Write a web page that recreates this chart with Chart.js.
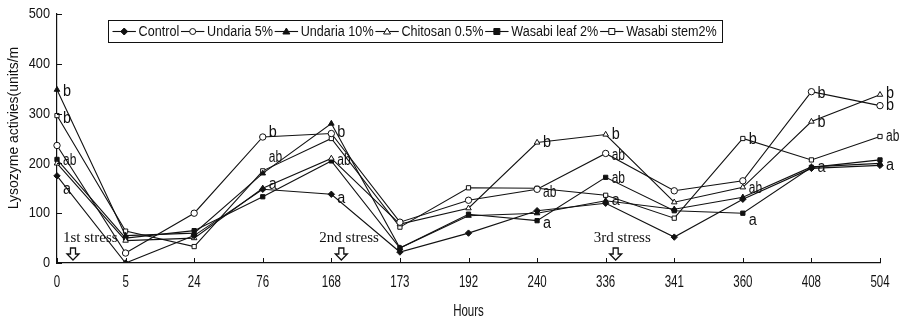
<!DOCTYPE html>
<html>
<head>
<meta charset="utf-8">
<script src="https://cdn.jsdelivr.net/npm/chart.js@4.4.1/dist/chart.umd.min.js"></script>
<style>
  html, body { margin: 0; padding: 0; background: #fff; }
  #wrap { width: 906px; height: 326px; }
</style>
</head>
<body>
<div id="wrap"><canvas id="lysoChart"></canvas></div>
<script>
// hours after start (category axis)
const hours = ['0', '5', '24', '76', '168', '173', '192', '240', '336', '341', '360', '408', '504'];

// lysozyme activity per treatment
const control    = [175, 0, 55, 148, 138, 22, 60, 105, 120, 52, 128, 190, 196];
const undaria5   = [236, 20, 100, 253, 260, 82, 126, 148, 220, 145, 165, 344, 316];
const undaria10  = [348, 55, 60, 180, 280, 30, 95, 100, 125, 108, 132, 193, 200];
const chitosan   = [200, 45, 50, 150, 210, 78, 110, 242, 258, 122, 152, 284, 338];
const wasabiLeaf = [208, 50, 65, 133, 205, 30, 98, 85, 172, 105, 100, 192, 207];
const wasabiStem = [296, 64, 33, 185, 250, 72, 151, 150, 136, 90, 250, 207, 254];

const yTicks = [0, 100, 200, 300, 400, 500];

// significance letters: [hour index, value, letter]
const sigLetters = [
  [0, 345, 'b'], [0, 290, 'b'], [0, 205, 'ab'], [0, 148, 'a'],
  [3, 262, 'b'], [3, 212, 'ab'], [3, 158, 'a'],
  [4, 262, 'b'], [4, 205, 'ab'], [4, 130, 'a'],
  [7, 242, 'b'], [7, 142, 'ab'], [7, 80, 'a'],
  [8, 258, 'b'], [8, 216, 'ab'], [8, 170, 'ab'], [8, 125, 'a'],
  [10, 248, 'b'], [10, 150, 'ab'], [10, 86, 'a'],
  [11, 340, 'b'], [11, 282, 'b'], [11, 192, 'a'],
  [12, 340, 'b'], [12, 316, 'b'], [12, 254, 'ab'], [12, 195, 'a']
];

// stress events: [hour index, label]
const stressNotes = [[0, '1st stress'], [4, '2nd stress'], [8, '3rd stress']];

const INK = '#111';
const SANS = '"Liberation Sans", Arial, sans-serif';

function series(label, data, style, filled) {
  return {
    label: label,
    data: data,
    borderColor: INK,
    borderWidth: 1.1,
    pointStyle: style,
    pointRadius: style === 'rect' ? 3 : 3.2,
    pointBorderWidth: 1,
    pointBorderColor: INK,
    pointBackgroundColor: filled ? INK : '#fff',
    tension: 0,
    fill: false
  };
}

const datasets = [
  series('Control', control, 'rectRot', true),
  series('Undaria 5%', undaria5, 'circle', false),
  series('Undaria 10%', undaria10, 'triangle', true),
  series('Chitosan 0.5%', chitosan, 'triangle', false),
  series('Wasabi leaf 2%', wasabiLeaf, 'rect', true),
  series('Wasabi stem2%', wasabiStem, 'rect', false)
];

// condensed text: regular font squeezed horizontally
function narrowText(ctx, text, x, y, align, sx, rot) {
  ctx.save();
  ctx.translate(x, y);
  if (rot) ctx.rotate(rot);
  ctx.scale(sx, 1);
  ctx.textAlign = align;
  ctx.textBaseline = 'middle';
  ctx.fillStyle = INK;
  ctx.fillText(text, 0, 0);
  ctx.restore();
}

function drawArrow(ctx, x, y) {
  // hollow down arrow, y = tip
  ctx.beginPath();
  ctx.moveTo(x - 2.5, y - 12);
  ctx.lineTo(x + 2.5, y - 12);
  ctx.lineTo(x + 2.5, y - 6);
  ctx.lineTo(x + 6, y - 6);
  ctx.lineTo(x, y);
  ctx.lineTo(x - 6, y - 6);
  ctx.lineTo(x - 2.5, y - 6);
  ctx.closePath();
  ctx.fillStyle = '#fff';
  ctx.fill();
  ctx.lineWidth = 1.3;
  ctx.strokeStyle = INK;
  ctx.stroke();
}

function drawMarker(ctx, style, filled, x, y) {
  ctx.beginPath();
  if (style === 'rectRot') {
    ctx.moveTo(x, y - 3.5); ctx.lineTo(x + 3.5, y); ctx.lineTo(x, y + 3.5); ctx.lineTo(x - 3.5, y);
    ctx.closePath();
  } else if (style === 'circle') {
    ctx.arc(x, y, 3, 0, Math.PI * 2);
  } else if (style === 'triangle') {
    ctx.moveTo(x, y - 3.5); ctx.lineTo(x + 3.5, y + 2.5); ctx.lineTo(x - 3.5, y + 2.5);
    ctx.closePath();
  } else {
    ctx.rect(x - 3, y - 3, 6, 6);
  }
  ctx.fillStyle = filled ? INK : '#fff';
  ctx.fill();
  ctx.lineWidth = 1;
  ctx.strokeStyle = INK;
  ctx.stroke();
}

const extras = {
  id: 'extras',
  afterDatasetsDraw(chart) {
    const ctx = chart.ctx;
    const xs = chart.scales.x;
    const ys = chart.scales.y;
    const area = chart.chartArea;
    ctx.save();

    // inward tick marks
    ctx.strokeStyle = INK;
    ctx.lineWidth = 1;
    ctx.beginPath();
    hours.forEach((h, i) => {
      const x = Math.round(xs.getPixelForValue(i)) + 0.5;
      ctx.moveTo(x, area.bottom);
      ctx.lineTo(x, area.bottom - 5);
    });
    yTicks.forEach(v => {
      const y = Math.round(ys.getPixelForValue(v)) + 0.5;
      ctx.moveTo(area.left, y);
      ctx.lineTo(area.left + 5, y);
    });
    ctx.stroke();

    // tick labels and axis titles, condensed like the original
    ctx.font = '16px ' + SANS;
    hours.forEach((h, i) => narrowText(ctx, h, xs.getPixelForValue(i), area.bottom + 20, 'center', 0.72));
    ctx.font = '15px ' + SANS;
    yTicks.forEach(v => narrowText(ctx, String(v), area.left - 7, ys.getPixelForValue(v), 'right', 0.85));
    ctx.font = '16px ' + SANS;
    narrowText(ctx, 'Hours', (area.left + area.right) / 2, 312, 'center', 0.72);
    ctx.font = '15px ' + SANS;
    narrowText(ctx, 'Lysozyme activies(units/m', 14, 128, 'center', 0.93, -Math.PI / 2);

    // significance letters
    ctx.font = '16px ' + SANS;
    sigLetters.forEach(([i, v, t]) => {
      narrowText(ctx, t, xs.getPixelForValue(i) + 6, ys.getPixelForValue(v), 'left', t === 'ab' ? 0.75 : 0.9);
    });

    // stress notes and arrows
    ctx.font = '15px "Liberation Serif", "Times New Roman", serif';
    stressNotes.forEach(([i, t], k) => {
      const x = xs.getPixelForValue(i);
      const shift = k === 0 ? 6 : -12;
      narrowText(ctx, t, x + shift, ys.getPixelForValue(50), 'left', 1);
      drawArrow(ctx, x + (k === 0 ? 16 : 10), ys.getPixelForValue(0) - 3);
    });
    ctx.restore();
  },
  afterDraw(chart) {
    // boxed legend with line + marker samples
    const ctx = chart.ctx;
    const box = { left: 108.5, top: 20.5, right: 722.5, bottom: 42.5 };
    ctx.save();
    ctx.strokeStyle = INK;
    ctx.lineWidth = 1;
    ctx.strokeRect(box.left, box.top, box.right - box.left, box.bottom - box.top);

    ctx.font = '14px ' + SANS;
    const seg = 26, gapA = 3, gapB = 2;
    let natural = 0;
    datasets.forEach(d => { natural += seg + gapA + ctx.measureText(d.label).width + gapB; });
    const avail = box.right - box.left - 8;
    const sx = avail / natural;
    let x = box.left + 4;
    const y = (box.top + box.bottom) / 2;
    datasets.forEach(d => {
      const w = seg * sx;
      ctx.beginPath();
      ctx.moveTo(x, y); ctx.lineTo(x + w, y);
      ctx.lineWidth = 1.1; ctx.strokeStyle = INK; ctx.stroke();
      drawMarker(ctx, d.pointStyle, d.pointBackgroundColor === INK, x + w / 2, y);
      x += w + gapA * sx;
      const tw = ctx.measureText(d.label).width;
      narrowText(ctx, d.label, x, y + 1, 'left', sx);
      x += (tw + gapB) * sx;
    });
    ctx.restore();
  }
};

new Chart(document.getElementById('lysoChart'), {
  type: 'line',
  data: { labels: hours, datasets: datasets },
  options: {
    responsive: true,
    maintainAspectRatio: false,
    animation: false,
    layout: { padding: { left: 0, right: 26, top: 14, bottom: 0 } },
    plugins: {
      legend: { display: false },
      tooltip: { enabled: false }
    },
    scales: {
      x: {
        type: 'category',
        offset: false,
        afterFit: s => { s.height = 63; },
        grid: { display: true, drawOnChartArea: false, drawTicks: false },
        border: { display: true, color: INK, width: 1.2 },
        ticks: { display: false, autoSkip: false }
      },
      y: {
        min: 0,
        max: 500,
        afterFit: s => { s.width = 57; },
        afterBuildTicks: s => { s.ticks = yTicks.map(v => ({ value: v })); },
        grid: { display: true, drawOnChartArea: false, drawTicks: false },
        border: { display: true, color: INK, width: 1.2 },
        ticks: { display: false }
      }
    }
  },
  plugins: [extras]
});
</script>
</body>
</html>
